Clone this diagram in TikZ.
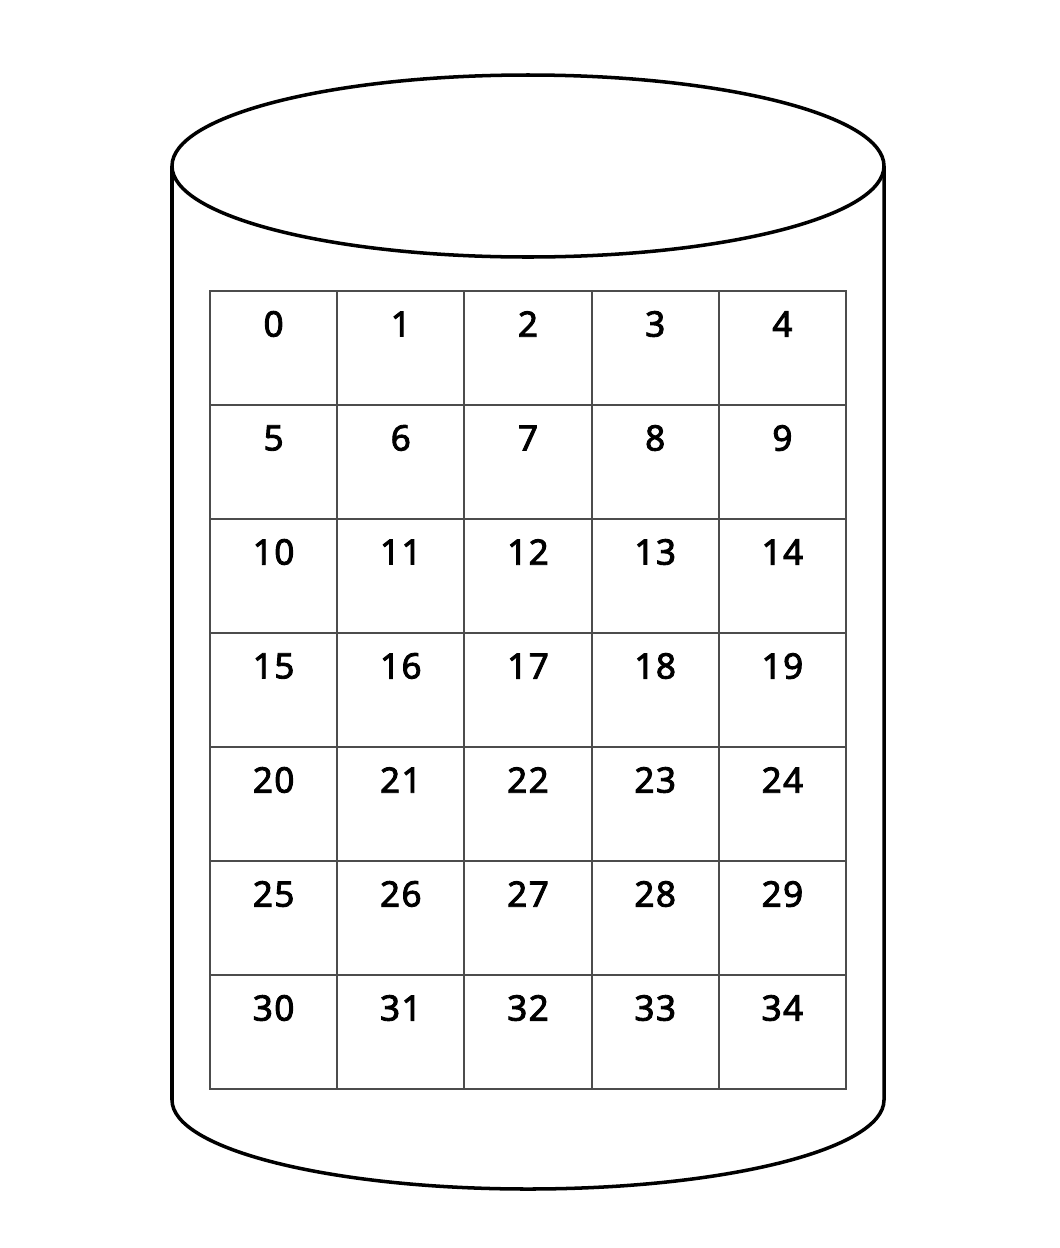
\documentclass[tikz,border=0pt]{standalone}
\usepackage{fontspec}
\setmainfont{Noto Sans}[FakeBold=2.5,LetterSpace=4]
\usetikzlibrary{positioning}
\tikzset{
  cell/.style={draw=black!70, line width=1.2pt, minimum width=2.544cm, minimum height=2.28cm, inner sep=0pt, outer sep=0pt},
  num/.style={font=\fontsize{20}{20}\selectfont, inner sep=0pt},
  drum/.style={line width=2pt}
}
\begin{document}
\begin{tikzpicture}[x=0.02cm,y=-0.02cm]
\useasboundingbox (0,0) rectangle (1060,1248);
% cylinder
\draw[drum] (528,166) ellipse (356 and 91);
\draw[drum] (172,166) -- (172,1100) arc (180:0:356 and 89) -- (884,166);
% cells 0..34
\foreach \i in {0,...,34}{
  \pgfmathtruncatemacro\cx{mod(\i,5)}
  \pgfmathtruncatemacro\ry{div(\i,5)}
  \node[cell] (c\i) at ({210+127.2*(\cx+0.5)},{291+114*(\ry+0.5)}) {};
  \node[num] (n\i) at ([yshift=-0.66cm]c\i.north) {\i};
}
\end{tikzpicture}
\end{document}
